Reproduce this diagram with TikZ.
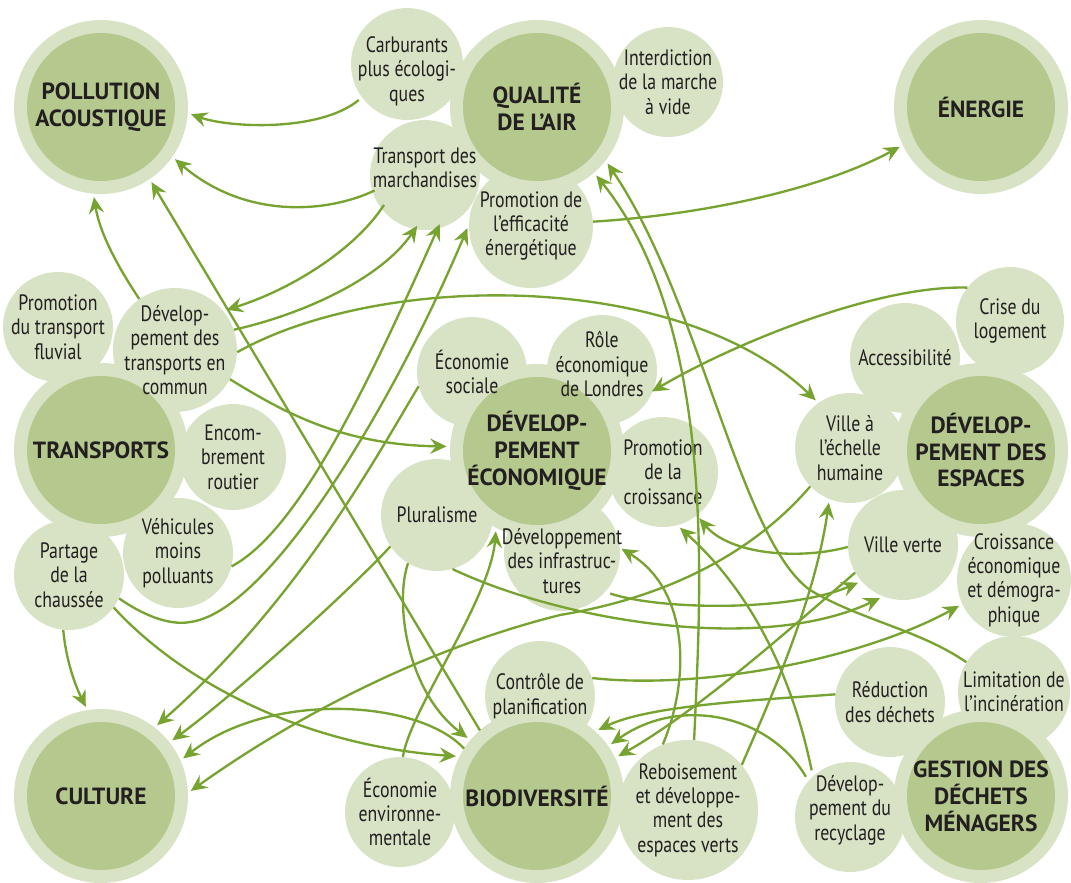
\documentclass[tikz,border=0pt]{standalone}
\usepackage{fontspec}
\usetikzlibrary{arrows.meta}
\setmainfont{PT Sans}[FakeStretch=0.8]
\newfontfamily\themefont{PT Sans}[FakeStretch=1.0]
\definecolor{Pale}{HTML}{D8E3C5}
\definecolor{Sage}{HTML}{B5C98F}
\definecolor{Leaf}{HTML}{77A331}
\definecolor{Ink}{HTML}{231F20}
\pgfdeclarelayer{halo}
\pgfdeclarelayer{disc}
\pgfsetlayers{halo,disc,main}
% theme: pale halo, dark disc above the small circles, title on top
\newcommand{\ThemeDisc}[3]{%
  \begin{pgfonlayer}{halo}\fill[Pale] (#2) circle[radius=87];\end{pgfonlayer}%
  \begin{pgfonlayer}{disc}\fill[Sage] (#2) circle[radius=74];\end{pgfonlayer}%
  \node[theme] (#1) at (#2) {#3};%
}
% small circle: [text shift]{name}{centre}{radius}{text}
\newcommand{\Idea}[5][0,0]{%
  \begin{pgfonlayer}{halo}\fill[Pale] (#3) circle[radius=#4];\end{pgfonlayer}%
  \node[idea,minimum size=#4*0.06cm,shift={(#1)}] (#2) at (#3) {#5};%
}

\begin{document}
\begin{tikzpicture}[x=0.03cm,y=-0.03cm,
  idea/.style={circle,inner sep=-30pt,align=center,text=Ink,
    font=\fontsize{19}{20.8}\selectfont},
  theme/.style={circle,inner sep=-30pt,minimum size=4.44cm,outer sep=0.39cm,
    align=center,text=Ink,font=\themefont\fontsize{20}{23}\selectfont\bfseries},
  link/.style={draw=Leaf,line width=2pt,-{Stealth[length=14pt,width=13pt,inset=5pt]},
    shorten >=3pt}]
\useasboundingbox (0,0) rectangle (1071,882);

% small circles
\Idea[0,7]{carb}{407,64}{56}{Carburants\\plus écologi-\\ques}
\Idea{inter}{668,82}{55}{Interdiction\\de la marche\\à vide}
\Idea[0,-7]{tmar}{425,175}{55}{Transport des\\marchandises}
\Idea{peff}{531,226}{62}{Promotion de\\l’efficacité\\énergétique}
\Idea{fluv}{58,327}{55}{Promotion\\du transport\\fluvial}
\Idea{dtc}{175,350}{62}{Dévelop-\\pement des\\transports en\\commun}
\Idea{encomb}{233,457}{53}{Encom-\\brement\\routier}
\Idea{vehic}{178,553}{55}{Véhicules\\moins\\polluants}
\Idea{partage}{69,575}{55}{Partage\\de la\\chaussée}
\Idea{esoc}{472,372}{55}{Économie\\sociale}
\Idea[0,-6]{role}{602,370}{55}{Rôle\\économique\\de Londres}
\Idea{pcrois}{663,472}{55}{Promotion\\de la\\croissance}
\Idea{plur}{437,515}{56}{Pluralisme}
\Idea[0,8]{infra}{562,553}{58}{Développement\\des infrastruc-\\tures}
\Idea{crise}{1010,321}{54}{Crise du\\logement}
\Idea{access}{905,358}{55}{Accessibilité}
\Idea{vhum}{850,448}{55}{Ville à\\l’échelle\\humaine}
\Idea{vverte}{903,545}{55}{Ville verte}
\Idea{crois}{1014,580}{57}{Croissance\\économique\\et démogra-\\phique}
\Idea{ctrl}{540,696}{55}{Contrôle de\\planification}
\Idea{eenv}{400,812}{55}{Économie\\environne-\\mentale}
\Idea{rebois}{688,810}{70}{Reboisement\\et développe-\\ment des\\espaces verts}
\Idea{reduc}{890,702}{55}{Réduction\\des déchets}
\Idea{limit}{1014,692}{56}{Limitation de\\l’incinération}
\Idea[0,-7]{recyc}{850,817}{55}{Dévelop-\\pement du\\recyclage}

% themes
\ThemeDisc{poll}{101,107}{POLLUTION\\ACOUSTIQUE}
\ThemeDisc{qual}{537,107}{QUALITÉ\\DE L’AIR}
\ThemeDisc{ener}{981,107}{ÉNERGIE}
\ThemeDisc{trans}{101,450}{TRANSPORTS}
\ThemeDisc{econ}{537,451}{DÉVELOP-\\PEMENT\\ÉCONOMIQUE}
\ThemeDisc{esp}{981,450}{DÉVELOP-\\PEMENT DES\\ESPACES}
\ThemeDisc{cult}{101,796}{CULTURE}
\ThemeDisc{bio}{537,796}{BIODIVERSITÉ}
\ThemeDisc{dech}{981,796}{GESTION DES\\DÉCHETS\\MÉNAGERS}

% pollution acoustique, énergie
\draw[link] (carb.211) .. controls (320,132) and (230,128) .. (poll.-4);
\draw[link] (tmar.204) .. controls (330,212) and (247,221) .. (poll.-35);
\draw[link] (dtc.125) .. controls (120,270) and (100,235) .. (poll.-95);
\draw[link] (bio.131) -- (poll.-56);
\draw[link] (peff.4) .. controls (700,215) and (820,190) .. (ener.206);
% transports
\draw[link] (tmar.222) .. controls (355,250) and (290,290) .. (dtc.39);
\draw[link] (dtc.19) .. controls (300,315) and (380,280) .. (tmar.264);
\draw[link] (dtc.-2) .. controls (382,271) and (680,270) .. (vhum.125);
\draw[link] (dtc.-28) .. controls (280,410) and (340,445) .. (econ.177);
\draw[link] (vehic.-14) .. controls (300,530) and (370,380) .. (tmar.-73);
\draw[link] (partage.-25) .. controls (150,620) and (175,625) .. (190,622)
  .. controls (270,612) and (395,400) .. (peff.179);
\draw[link] (partage.-96) .. controls (66,660) and (75,685) .. (cult.99);
\draw[link] (partage.-36) .. controls (180,680) and (300,745) .. (bio.153);
% culture
\draw[link] (esoc.195) .. controls (380,450) and (300,600) .. (cult.52);
\draw[link] (plur.214) .. controls (350,590) and (240,690) .. (cult.38);
\draw[link] (bio.147) .. controls (420,700) and (270,690) .. (cult.24);
\draw[link] (vhum.224) .. controls (760,545) and (680,595) .. (560,615)
  .. controls (420,650) and (290,720) .. (cult.2);
% biodiversité, développement
\draw[link] (eenv.87) .. controls (410,710) and (490,600) .. (econ.-118);
\draw[link] (plur.-121) .. controls (395,600) and (405,690) .. (bio.140);
\draw[link] (ctrl.19) .. controls (700,690) and (860,660) .. (crois.205);
\draw[link] (infra.-34) .. controls (660,610) and (790,612) .. (vverte.221);
\draw[link] (plur.-74) .. controls (560,620) and (760,655) .. (vverte.249);
\draw[link] (vverte.182) .. controls (800,560) and (730,555) .. (pcrois.-52);
\draw[link] (recyc.134) .. controls (795,690) and (760,600) .. (pcrois.-75);
\draw[link] (rebois.111) .. controls (690,680) and (690,590) .. (infra.14);
\draw[link] (rebois.40) .. controls (770,700) and (815,600) .. (vhum.248);
\draw[link] (crise.142) .. controls (880,285) and (740,340) .. (role.-32);
\draw[link] (reduc.172) .. controls (760,700) and (650,705) .. (bio.48);
\draw[link] (recyc.143) .. controls (770,715) and (680,695) .. (bio.35);
\draw[link] (vverte.210) .. controls (800,620) and (700,710) .. (bio.26);
% qualité de l'air
\draw[link] (limit.148) .. controls (920,630) and (860,620) .. (810,590)
  .. controls (740,540) and (700,300) .. (qual.-38);
\draw[link] (rebois.85) .. controls (700,600) and (720,330) .. (qual.-49);
\end{tikzpicture}
\end{document}
